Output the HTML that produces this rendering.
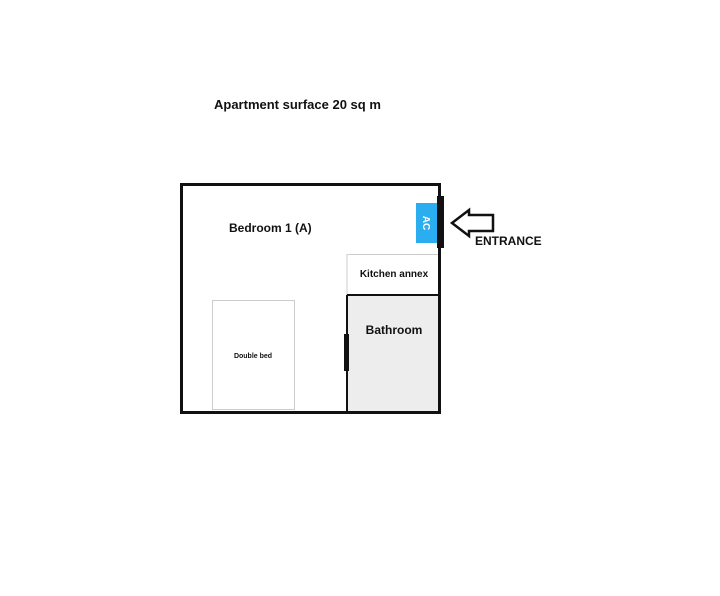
<!DOCTYPE html>
<html><head><meta charset="utf-8"><style>
html,body{margin:0;padding:0;background:#fff;}
svg{display:block;}
text{font-family:"Liberation Sans",sans-serif;fill:#111;}
</style></head><body>
<svg width="720" height="596" viewBox="0 0 720 596" xmlns="http://www.w3.org/2000/svg">
<rect width="720" height="596" fill="#fff"/>
<text x="214" y="109" font-size="13" font-weight="bold">Apartment surface 20 sq m</text>
<!-- bathroom fill -->
<rect x="347" y="295" width="93" height="117" fill="#ededed"/>
<!-- kitchen -->
<rect x="347" y="254.5" width="93" height="40" fill="#fff" stroke="#ccc" stroke-width="1"/>
<!-- bathroom walls -->
<line x1="347" y1="295" x2="440" y2="295" stroke="#111" stroke-width="2"/>
<line x1="347" y1="295" x2="347" y2="412" stroke="#111" stroke-width="2"/>
<!-- outer -->
<rect x="181.5" y="184.5" width="258" height="228" fill="none" stroke="#111" stroke-width="3"/>
<!-- bed -->
<rect x="212.5" y="300.5" width="82" height="109" fill="#fff" stroke="#ccc" stroke-width="1"/>
<text x="253" y="358" font-size="7" text-anchor="middle" font-weight="bold" fill="#333">Double bed</text>
<!-- doors -->
<rect x="344" y="334" width="5" height="37" fill="#111"/>
<rect x="437" y="196" width="7" height="52" fill="#111"/>
<!-- AC -->
<rect x="416" y="203" width="21" height="40" fill="#2aaef0"/>
<text x="0" y="0" font-size="10" font-weight="bold" fill="#fff" style="fill:#fff" text-anchor="middle" transform="translate(423,223) rotate(90)">AC</text>
<!-- arrow -->
<polygon points="452,223 469,210 469,215 493,215 493,231 469,231 469,236" fill="#fff" stroke="#111" stroke-width="2.5" stroke-linejoin="miter"/>
<text x="475" y="245" font-size="12" font-weight="bold">ENTRANCE</text>
<text x="229" y="232" font-size="12" font-weight="bold">Bedroom 1 (A)</text>
<text x="394" y="277" font-size="10" font-weight="bold" text-anchor="middle">Kitchen annex</text>
<text x="394" y="334" font-size="12" font-weight="bold" text-anchor="middle">Bathroom</text>
</svg>
</body></html>
